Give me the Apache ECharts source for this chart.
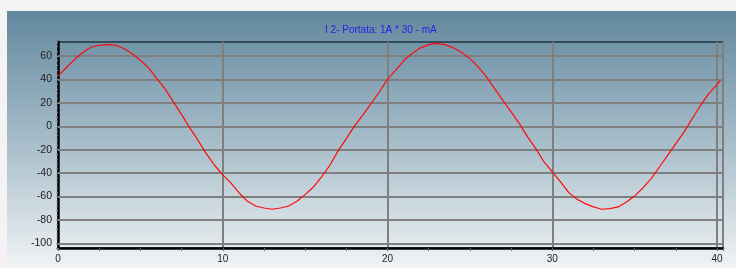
<!DOCTYPE html>
<html>
<head>
<meta charset="utf-8">
<script src="https://cdn.jsdelivr.net/npm/echarts@6/dist/echarts.min.js"></script>
<style>
  html, body { margin: 0; padding: 0; background: #f4f2f2; }
  #chart { width: 736px; height: 268px; }
</style>
</head>
<body>
<div id="chart"></div>
<script>
// sample positions (x axis) and current readings (y axis)
const xValues = [
  0, 0.5, 1, 1.5, 2, 2.5, 3, 3.5, 4, 4.5, 5, 5.5, 6, 6.5, 7, 7.5, 8, 8.5, 9, 9.5,
  10, 10.5, 11, 11.5, 12, 12.5, 13, 13.5, 14, 14.5, 15, 15.5, 16, 16.5, 17, 17.5, 18, 18.5, 19, 19.5,
  20, 20.5, 21, 21.5, 22, 22.5, 23, 23.5, 24, 24.5, 25, 25.5, 26, 26.5, 27, 27.5, 28, 28.5, 29, 29.5,
  30, 30.5, 31, 31.5, 32, 32.5, 33, 33.5, 34, 34.5, 35, 35.5, 36, 36.5, 37, 37.5, 38, 38.5, 39, 39.5,
  40, 40.2
];
const currentValues = [
  43, 50, 57, 63, 67.5, 69.2, 69.8, 69.2, 66.4, 62, 56.4, 49.9, 40.7, 32, 20.8, 10, -1.4, -12, -23.4, -33.3,
  -41.5, -48.6, -57, -64.1, -68.1, -69.8, -70.9, -69.8, -68.1, -64.1, -58.4, -51.9, -43.3, -33.3, -21, -10.5, 0.3, 9.5, 19.4, 29.3,
  40, 47.9, 56.4, 62.4, 67, 69.8, 70.9, 69.8, 67, 63, 57.8, 50.7, 42.2, 32.2, 22.2, 12.3, 2.3, -9.1, -19.1, -30.5,
  -39, -47.6, -56.7, -62.4, -66.1, -68.9, -70.9, -70.4, -68.9, -64.7, -59.5, -52.7, -44.7, -34.8, -24.8, -14.8, -4.8, 6.6, 18, 27.9,
  35.6, 39.3
];
const yGridValues = [-100, -80, -60, -40, -20, 0, 20, 40, 60];
const titleText = 'I 2- Portata: 1A * 30 - mA';

const chart = echarts.init(document.getElementById('chart'));

const points = xValues.map((x, i) => [x, currentValues[i]]);

const option = {
  animation: false,
  textStyle: { fontFamily: 'Liberation Sans, Arial, sans-serif' },
  graphic: [
    {
      type: 'rect',
      z: -10,
      shape: { x: 7, y: 11, width: 729, height: 257 },
      style: {
        fill: new echarts.graphic.LinearGradient(0, 0, 0, 1, [
          { offset: 0, color: '#62889e' },
          { offset: 0.5, color: '#a6bcc9' },
          { offset: 1, color: '#f0f3f5' }
        ])
      }
    }
  ],
  title: {
    text: titleText,
    left: 320,
    top: 20,
    textStyle: { color: '#2424e6', fontSize: 10, fontWeight: 'normal' }
  },
  grid: {
    left: 58,
    top: 42,
    right: 13,
    bottom: 20,
    show: true,
    backgroundColor: 'transparent',
    borderColor: '#25343f',
    borderWidth: 1.5
  },
  xAxis: {
    type: 'value',
    min: 0,
    max: 40.36,
    interval: 10,
    axisLine: { onZero: false, lineStyle: { color: '#000', width: 2.5 } },
    axisTick: { show: true, length: 3, lineStyle: { color: '#666' } },
    minorTick: { show: true, splitNumber: 4, length: 3, lineStyle: { color: '#666' } },
    axisLabel: {
      color: '#222',
      fontSize: 10,
      margin: 6,
      formatter: v => (v % 10 === 0 ? String(v) : '')
    },
    splitLine: { show: true, lineStyle: { color: '#7f7f7f', width: 2 } }
  },
  yAxis: {
    type: 'value',
    min: -104,
    max: 72,
    interval: 4,
    axisLine: { onZero: false, lineStyle: { color: '#000', width: 2.5 } },
    axisTick: { show: true, length: 2, lineStyle: { color: '#8795a0', width: 1 } },
    axisLabel: {
      color: '#222',
      fontSize: 10.5,
      margin: 6,
      formatter: v => (v % 20 === 0 && v <= 60 ? String(v) : '')
    },
    splitLine: { show: false }
  },
  series: [
    {
      type: 'line',
      data: points,
      showSymbol: false,
      smooth: false,
      lineStyle: { color: '#ff0a0a', width: 1.2 },
      z: 5,
      markLine: {
        silent: true,
        symbol: ['none', 'none'],
        label: { show: false },
        lineStyle: { color: '#7f7f7f', width: 2, type: 'solid' },
        data: yGridValues.map(v => ({ yAxis: v }))
      }
    }
  ]
};

chart.setOption(option);
</script>
</body>
</html>
